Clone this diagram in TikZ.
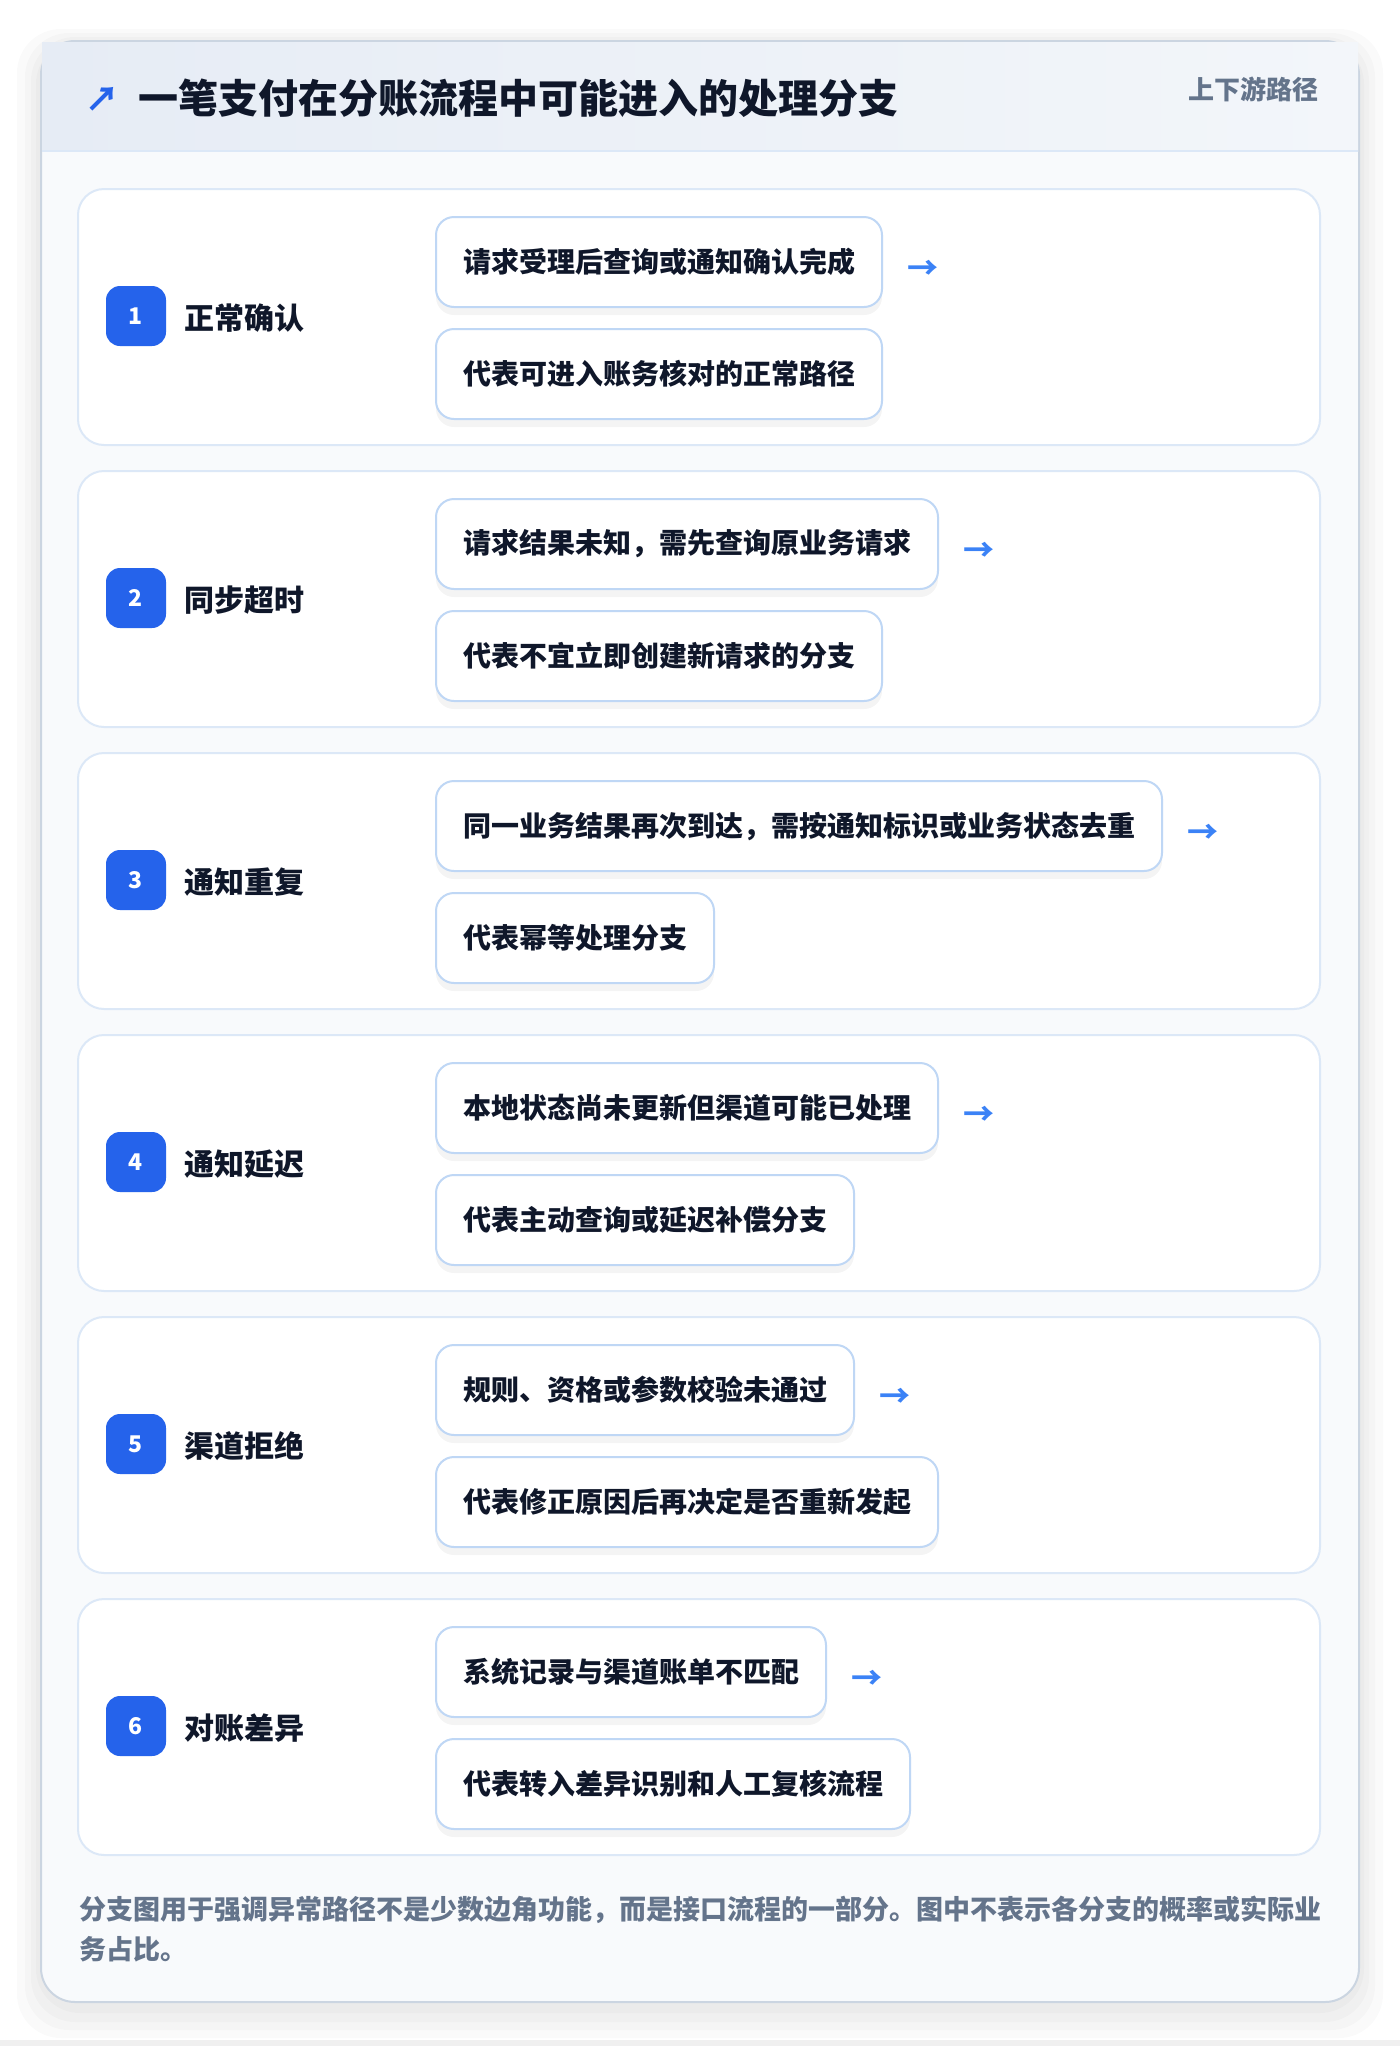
\documentclass[tikz,border=0pt]{standalone}
\usepackage{fontspec}
\setmainfont{Noto Sans CJK SC}
\usepackage{xcolor}
\usepackage{tikz}
\usetikzlibrary{positioning}

\definecolor{inkdark}{HTML}{0F172A}
\definecolor{slatetext}{HTML}{64748B}
\definecolor{badgeblue}{HTML}{2563EB}
\definecolor{arrowblue}{HTML}{3B82F6}
\definecolor{cardline}{HTML}{CBD5E1}
\definecolor{rowline}{HTML}{DCE8F7}
\definecolor{boxline}{HTML}{BFD7F5}
\definecolor{bodyfill}{HTML}{F8FAFC}
\definecolor{headleft}{HTML}{E6ECF5}
\definecolor{headright}{HTML}{F3F6FA}

\tikzset{
  rowcard/.style={draw=rowline, fill=white, line width=1pt, rounded corners=13pt},
  badge/.style={fill=badgeblue, text=white, rounded corners=7pt, minimum size=30pt,
    inner sep=0pt, font=\fontsize{11.5pt}{11.5pt}\selectfont\bfseries},
  rowlabel/.style={text=inkdark, inner sep=0pt, font=\fontsize{15pt}{15pt}\selectfont\bfseries},
  pathbox/.style={draw=boxline, fill=white, line width=1pt, rounded corners=9pt,
    minimum height=45pt, inner xsep=13.5pt, inner ysep=0pt, text=inkdark,
    font=\fontsize{14pt}{14pt}\selectfont\bfseries,
    preaction={draw=none, fill=black, fill opacity=0.045, transform canvas={yshift=-4pt}}},
  flowarrow/.style={text=arrowblue, inner sep=0pt, font=\fontsize{15.5pt}{15.5pt}\selectfont\bfseries},
  cardshadow/.style={fill=black, fill opacity=0.018, rounded corners=22pt},
}

\begin{document}
\begin{tikzpicture}[x=0.5pt, y=-0.5pt]
    \useasboundingbox (0,0) rectangle (1400,2046);
    \fill[white] (0,0) rectangle (1400,2046);
    \fill[black!6] (0,2040) rectangle (1400,2046);

    % Soft shadow round the outer card
    \fill[cardshadow] (17,29) rectangle (1383,2038);
    \fill[cardshadow] (25,33) rectangle (1375,2030);
    \fill[cardshadow] (31,37) rectangle (1369,2022);
    \fill[cardshadow] (36,40) rectangle (1364,2013);

    % Outer card
    \draw[cardline, fill=bodyfill, line width=1pt, rounded corners=17pt] (41,41) rectangle (1359,2002);

    % Header band
    \shade[left color=headleft, right color=headright] (42,42) rectangle (1358,151);
    \draw[rowline, line width=1pt] (42,151) -- (1358,151);
    \node[text=badgeblue, inner sep=0pt, font=\fontsize{17pt}{17pt}\selectfont\bfseries] (icon) at (102,99) {↗};
    \node[anchor=west, text=inkdark, inner sep=0pt, font=\fontsize{20pt}{20pt}\selectfont\bfseries]
      (title) at (138,98) {一笔支付在分账流程中可能进入的处理分支};
    \node[anchor=east, text=slatetext, inner sep=0pt, font=\fontsize{13pt}{13pt}\selectfont\bfseries]
      (tag) at (1319,89) {上下游路径};

    % Row 1
    \draw[rowcard] (78,189) rectangle (1320,445);
    \node[badge] (b1) at (136,316) {1};
    \node[rowlabel, right=9pt of b1, yshift=-1pt] (l1) {正常确认};
    \node[pathbox, anchor=west] (q1a) at (435,262) {请求受理后查询或通知确认完成};
    \node[pathbox, below=10pt of q1a.south west, anchor=north west] (q1b) {代表可进入账务核对的正常路径};
    \node[flowarrow, right=12pt of q1a, yshift=-4pt] (f1) {→};

    % Row 2
    \draw[rowcard] (78,471) rectangle (1320,727);
    \node[badge] (b2) at (136,598) {2};
    \node[rowlabel, right=9pt of b2, yshift=-1pt] (l2) {同步超时};
    \node[pathbox, anchor=west] (q2a) at (435,544) {请求结果未知，需先查询原业务请求};
    \node[pathbox, below=10pt of q2a.south west, anchor=north west] (q2b) {代表不宜立即创建新请求的分支};
    \node[flowarrow, right=12pt of q2a, yshift=-4pt] (f2) {→};

    % Row 3
    \draw[rowcard] (78,753) rectangle (1320,1009);
    \node[badge] (b3) at (136,880) {3};
    \node[rowlabel, right=9pt of b3, yshift=-1pt] (l3) {通知重复};
    \node[pathbox, anchor=west] (q3a) at (435,826) {同一业务结果再次到达，需按通知标识或业务状态去重};
    \node[pathbox, below=10pt of q3a.south west, anchor=north west] (q3b) {代表幂等处理分支};
    \node[flowarrow, right=12pt of q3a, yshift=-4pt] (f3) {→};

    % Row 4
    \draw[rowcard] (78,1035) rectangle (1320,1291);
    \node[badge] (b4) at (136,1162) {4};
    \node[rowlabel, right=9pt of b4, yshift=-1pt] (l4) {通知延迟};
    \node[pathbox, anchor=west] (q4a) at (435,1108) {本地状态尚未更新但渠道可能已处理};
    \node[pathbox, below=10pt of q4a.south west, anchor=north west] (q4b) {代表主动查询或延迟补偿分支};
    \node[flowarrow, right=12pt of q4a, yshift=-4pt] (f4) {→};

    % Row 5
    \draw[rowcard] (78,1317) rectangle (1320,1573);
    \node[badge] (b5) at (136,1444) {5};
    \node[rowlabel, right=9pt of b5, yshift=-1pt] (l5) {渠道拒绝};
    \node[pathbox, anchor=west] (q5a) at (435,1390) {规则、资格或参数校验未通过};
    \node[pathbox, below=10pt of q5a.south west, anchor=north west] (q5b) {代表修正原因后再决定是否重新发起};
    \node[flowarrow, right=12pt of q5a, yshift=-4pt] (f5) {→};

    % Row 6
    \draw[rowcard] (78,1599) rectangle (1320,1855);
    \node[badge] (b6) at (136,1726) {6};
    \node[rowlabel, right=9pt of b6, yshift=-1pt] (l6) {对账差异};
    \node[pathbox, anchor=west] (q6a) at (435,1672) {系统记录与渠道账单不匹配};
    \node[pathbox, below=10pt of q6a.south west, anchor=north west] (q6b) {代表转入差异识别和人工复核流程};
    \node[flowarrow, right=12pt of q6a, yshift=-4pt] (f6) {→};

    % Footer note
    \node[anchor=north west, inner sep=0pt, text=slatetext, align=left,
      font=\fontsize{13.5pt}{20pt}\selectfont\bfseries] (note) at (79,1896)
      {分支图用于强调异常路径不是少数边角功能，而是接口流程的一部分。图中不表示各分支的概率或实际业\\务占比。};
\end{tikzpicture}
\end{document}
